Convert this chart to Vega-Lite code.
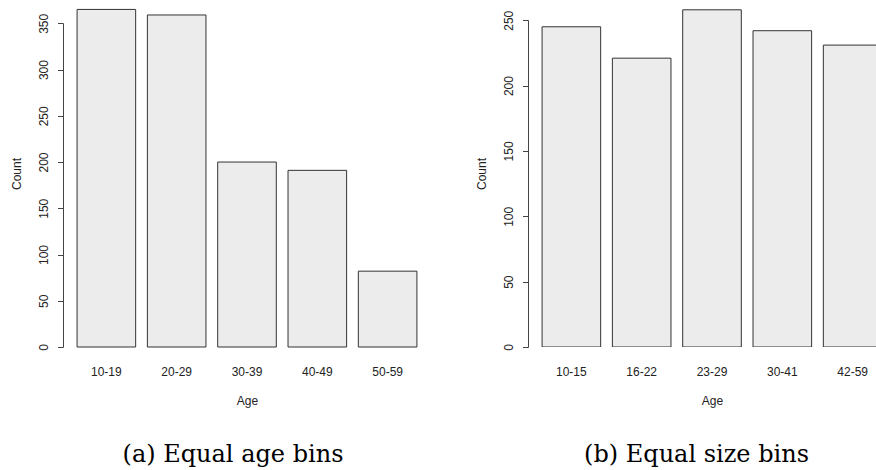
{
  "$schema": "https://vega.github.io/schema/vega-lite/v6.json",
  "background": "white",
  "padding": {"left": 10, "top": 0, "right": 0, "bottom": 0},
  "config": {"view": {"stroke": null}, "font": "Liberation Sans"},
  "datasets": {
    "equalAge": [
      {"bin": "10-19", "count": 365},
      {"bin": "20-29", "count": 359},
      {"bin": "30-39", "count": 200},
      {"bin": "40-49", "count": 191},
      {"bin": "50-59", "count": 82}
    ],
    "equalSize": [
      {"bin": "10-15", "count": 245},
      {"bin": "16-22", "count": 221},
      {"bin": "23-29", "count": 258},
      {"bin": "30-41", "count": 242},
      {"bin": "42-59", "count": 231}
    ]
  },
  "spacing": 44,
  "hconcat": [
    {
      "width": 368,
      "height": 347,
      "data": {"name": "equalAge"},
      "title": {"text": "(a) Equal age bins", "orient": "bottom", "anchor": "middle", "font": "DejaVu Serif", "fontSize": 24, "fontWeight": "normal", "color": "#000000", "baseline": "alphabetic", "offset": 56, "dx": -14},
      "mark": {"type": "bar", "fill": "#ececec", "stroke": "#333333", "strokeWidth": 1},
      "encoding": {
        "x": {
          "field": "bin", "type": "nominal", "sort": null,
          "scale": {"paddingInner": 0.1667, "paddingOuter": 0.2},
          "axis": {"title": "Age", "domain": false, "ticks": false, "tickSize": 0, "labelAngle": 0, "labelBaseline": "alphabetic", "labelPadding": 28.7, "labelFont": "Liberation Sans", "labelFontSize": 12, "labelColor": "#222222", "titleFont": "Liberation Sans", "titleFontSize": 12, "titleFontWeight": "normal", "titleColor": "#222222", "titleY": 57, "titleBaseline": "alphabetic"}
        },
        "y": {
          "field": "count", "type": "quantitative",
          "scale": {"domain": [0, 375.2], "nice": false, "zero": true},
          "axis": {"title": "Count", "values": [0, 50, 100, 150, 200, 250, 300, 350], "grid": false, "domain": true, "domainColor": "#444444", "domainDash": [324, 2000], "ticks": true, "tickColor": "#444444", "tickSize": 5.5, "labelAngle": -90, "labelAlign": "center", "labelBaseline": "alphabetic", "labelPadding": 10, "labelFont": "Liberation Sans", "labelFontSize": 12, "labelColor": "#222222", "labelFlush": false, "labelOverlap": false, "titleFont": "Liberation Sans", "titleFontSize": 12, "titleFontWeight": "normal", "titleColor": "#222222", "titleAngle": -90, "titleX": -42.5, "titleY": 173.5, "titleBaseline": "alphabetic"}
        }
      }
    },
    {
      "width": 349,
      "height": 347,
      "data": {"name": "equalSize"},
      "title": {"text": "(b) Equal size bins", "orient": "bottom", "anchor": "middle", "font": "DejaVu Serif", "fontSize": 24, "fontWeight": "normal", "color": "#000000", "baseline": "alphabetic", "offset": 56, "dx": -6},
      "mark": {"type": "bar", "fill": "#ececec", "stroke": "#333333", "strokeWidth": 1, "clip": true},
      "encoding": {
        "x": {
          "field": "bin", "type": "nominal", "sort": null,
          "scale": {"paddingInner": 0.1667, "paddingOuter": 0.2, "range": [0, 368]},
          "axis": {"title": "Age", "domain": false, "ticks": false, "tickSize": 0, "labelAngle": 0, "labelBaseline": "alphabetic", "labelPadding": 28.7, "labelFont": "Liberation Sans", "labelFontSize": 12, "labelColor": "#222222", "titleFont": "Liberation Sans", "titleFontSize": 12, "titleFontWeight": "normal", "titleColor": "#222222", "titleY": 57, "titleBaseline": "alphabetic"}
        },
        "y": {
          "field": "count", "type": "quantitative",
          "scale": {"domain": [0, 265.5], "nice": false, "zero": true},
          "axis": {"title": "Count", "values": [0, 50, 100, 150, 200, 250], "grid": false, "domain": true, "domainColor": "#444444", "domainDash": [327, 2000], "ticks": true, "tickColor": "#444444", "tickSize": 5.5, "labelAngle": -90, "labelAlign": "center", "labelBaseline": "alphabetic", "labelPadding": 10, "labelFont": "Liberation Sans", "labelFontSize": 12, "labelColor": "#222222", "labelFlush": false, "labelOverlap": false, "titleFont": "Liberation Sans", "titleFontSize": 12, "titleFontWeight": "normal", "titleColor": "#222222", "titleAngle": -90, "titleX": -42.5, "titleY": 173.5, "titleBaseline": "alphabetic"}
        }
      }
    }
  ]
}
